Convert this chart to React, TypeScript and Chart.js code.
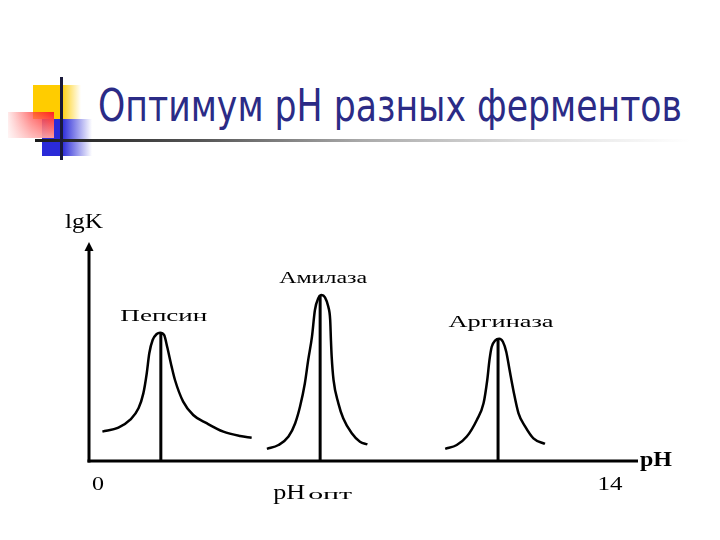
import React, { useEffect, useRef } from 'react';
import { Chart, registerables } from 'chart.js';

Chart.register(...registerables);

// ---------- data ----------
const titleText = 'Оптимум pH разных ферментов';
const enzymeNames = ['Пепсин', 'Амилаза', 'Аргиназа'];
const phOptimum = [1.93, 6.21, 10.99];
const peakLgK = [5.94, 7.69, 5.66];

const pepsinPH = [0.36, 0.79, 1.10, 1.33, 1.46, 1.55, 1.62, 1.71, 1.82, 1.91, 2.02, 2.10, 2.22, 2.31, 2.53, 2.80, 3.16, 3.61, 4.06, 4.37];
const pepsinLgK = [1.36, 1.54, 1.90, 2.44, 3.13, 4.04, 4.99, 5.60, 5.88, 5.94, 5.83, 5.29, 4.37, 3.75, 2.75, 2.13, 1.75, 1.36, 1.16, 1.08];

const amylasePH = [4.78, 5.09, 5.36, 5.54, 5.67, 5.80, 5.89, 5.99, 6.07, 6.16, 6.25, 6.34, 6.43, 6.48, 6.50, 6.52, 6.57, 6.70, 6.83, 7.06, 7.28, 7.48];
const amylaseLgK = [0.56, 0.74, 1.13, 1.75, 2.52, 3.60, 4.68, 5.75, 6.99, 7.53, 7.69, 7.58, 7.14, 6.53, 5.60, 4.83, 3.75, 2.67, 1.98, 1.28, 0.89, 0.77];

const arginasePH = [9.57, 9.88, 10.15, 10.42, 10.60, 10.70, 10.76, 10.82, 10.91, 11.02, 11.12, 11.21, 11.30, 11.40, 11.54, 11.72, 11.94, 12.25];
const arginaseLgK = [0.56, 0.74, 1.13, 1.90, 2.67, 3.75, 4.68, 5.29, 5.57, 5.66, 5.52, 5.06, 4.21, 3.29, 2.21, 1.59, 1.05, 0.79];

const xTickValues = [0, 14];
const xTickLabels = ['0', '14'];
const xAxisTitle = 'pH';
const yAxisTitle = 'lgK';
const optLabelMain = 'pH';
const optLabelSub = 'опт';

const X_MAX = 14.75;
const Y_MAX = 10;

// ---------- helpers ----------
const SERIF = '"Liberation Serif", "DejaVu Serif", serif';

function stretchText(
  ctx: CanvasRenderingContext2D,
  text: string,
  x: number,
  y: number,
  size: number,
  width: number,
  align: 'center' | 'left' = 'center',
  baseline: CanvasTextBaseline = 'middle',
  weight: string = 'normal'
) {
  ctx.save();
  ctx.font = `${weight} ${size}px ${SERIF}`;
  ctx.fillStyle = '#000';
  ctx.textBaseline = baseline;
  ctx.textAlign = align;
  const w = ctx.measureText(text).width || 1;
  ctx.translate(x, y);
  ctx.scale(width / w, 1);
  ctx.fillText(text, 0, 0);
  ctx.restore();
}

const toPoints = (xs: number[], ys: number[]) => xs.map((x, i) => ({ x, y: ys[i] }));

const slidePlugin = {
  id: 'slideAxes',
  beforeDatasetsDraw(chart: any) {
    const ctx: CanvasRenderingContext2D = chart.ctx;
    const { left, right, top, bottom } = chart.chartArea;
    ctx.save();
    ctx.strokeStyle = '#000';
    ctx.fillStyle = '#000';
    ctx.lineWidth = 3;
    // y axis
    ctx.beginPath();
    ctx.moveTo(left, bottom + 1.5);
    ctx.lineTo(left, top + 6);
    ctx.stroke();
    ctx.beginPath();
    ctx.moveTo(left, top - 3);
    ctx.lineTo(left - 4.5, top + 6);
    ctx.lineTo(left + 4.5, top + 6);
    ctx.closePath();
    ctx.fill();
    // x axis
    ctx.beginPath();
    ctx.moveTo(left - 1.5, bottom);
    ctx.lineTo(right, bottom);
    ctx.stroke();
    ctx.restore();
  },
  afterDraw(chart: any) {
    const ctx: CanvasRenderingContext2D = chart.ctx;
    const xs = chart.scales.x;
    const ys = chart.scales.y;
    const { left, right, top, bottom } = chart.chartArea;
    // axis titles
    stretchText(ctx, yAxisTitle, left - 5, top - 22, 20, 38);
    stretchText(ctx, xAxisTitle, right + 18, bottom - 1, 22, 32, 'center', 'middle', 'bold');
    // tick labels
    const tickWidths = [12, 25];
    xTickValues.forEach((v, i) => {
      const px = xs.getPixelForValue(v);
      stretchText(ctx, xTickLabels[i], px + (i === 0 ? 9 : 0), bottom + 24, 19, tickWidths[i]);
    });
    // enzyme labels
    const labelWidths = [87, 88, 105];
    enzymeNames.forEach((name, i) => {
      const px = xs.getPixelForValue(phOptimum[i]);
      const py = ys.getPixelForValue(peakLgK[i]);
      stretchText(ctx, name, px + 3, py - 16, 16, labelWidths[i]);
    });
    // pH opt label
    const ox = xs.getPixelForValue(phOptimum[1]) - 47;
    stretchText(ctx, optLabelMain, ox, bottom + 38, 21, 32, 'left', 'alphabetic');
    stretchText(ctx, optLabelSub, ox + 35, bottom + 38, 14, 44, 'left', 'alphabetic');
  },
};

export default function App() {
  const canvasRef = useRef<HTMLCanvasElement | null>(null);
  const titleRef = useRef<HTMLSpanElement | null>(null);

  useEffect(() => {
    const t = titleRef.current;
    if (t) {
      const w = t.offsetWidth || 1;
      t.style.transform = `scaleX(${584 / w})`;
    }
    const canvas = canvasRef.current;
    if (!canvas) return;
    const curves = [
      toPoints(pepsinPH, pepsinLgK),
      toPoints(amylasePH, amylaseLgK),
      toPoints(arginasePH, arginaseLgK),
    ];
    const datasets: any[] = [];
    curves.forEach((pts, i) => {
      datasets.push({
        label: enzymeNames[i],
        data: pts,
        showLine: true,
        borderColor: '#000',
        borderWidth: 2.5,
        pointRadius: 0,
        cubicInterpolationMode: 'monotone',
        fill: false,
      });
    });
    phOptimum.forEach((ph, i) => {
      datasets.push({
        label: enzymeNames[i] + ' pH',
        data: [
          { x: ph, y: 0 },
          { x: ph, y: peakLgK[i] },
        ],
        showLine: true,
        borderColor: '#000',
        borderWidth: 3,
        pointRadius: 0,
        fill: false,
      });
    });
    const chart = new Chart(canvas, {
      type: 'scatter',
      data: { datasets },
      options: {
        animation: false,
        responsive: true,
        maintainAspectRatio: false,
        layout: { padding: { left: 89, right: 82, top: 245, bottom: 79 } },
        plugins: { legend: { display: false }, tooltip: { enabled: false }, title: { display: false } },
        scales: {
          x: { type: 'linear', min: 0, max: X_MAX, display: false },
          y: { type: 'linear', min: 0, max: Y_MAX, display: false },
        },
        clip: false as any,
      },
      plugins: [slidePlugin],
    });
    return () => chart.destroy();
  }, []);

  return (
    <div style={{ position: 'fixed', left: 0, top: 0, width: 720, height: 540, background: '#fff', overflow: 'hidden' }}>
      {/* decorative squares */}
      <div style={{ position: 'absolute', left: 33, top: 85, width: 48, height: 34,
        background: 'linear-gradient(to right, #FFCC00 0%, #FFCC00 58%, rgba(255,220,80,0) 100%)' }} />
      <div style={{ position: 'absolute', left: 42, top: 119, width: 50, height: 37,
        background: 'linear-gradient(to right, #2A2AD8 0%, #2A2AD8 40%, rgba(80,80,230,0) 100%)' }} />
      <div style={{ position: 'absolute', left: 8, top: 112, width: 46, height: 26,
        background: 'linear-gradient(to bottom, rgba(255,255,255,0) 0%, rgba(255,255,255,0.55) 100%), linear-gradient(to right, rgba(255,120,120,0.15) 0%, rgba(255,60,60,0.7) 50%, #FF2020 100%)' }} />
      <div style={{ position: 'absolute', left: 35, top: 139, width: 655, height: 3,
        background: 'linear-gradient(to right, #1a1a1a 0%, #555 25%, #aaa 50%, #ddd 75%, rgba(255,255,255,0) 100%)' }} />
      <div style={{ position: 'absolute', left: 60, top: 77, width: 3, height: 83, background: '#1a1a3a' }} />
      {/* title */}
      <div style={{ position: 'absolute', left: 98, top: 84, whiteSpace: 'nowrap' }}>
        <span ref={titleRef} style={{ display: 'inline-block', transformOrigin: 'left center',
          fontFamily: '"DejaVu Sans", Verdana, sans-serif', fontSize: 44, lineHeight: '44px', color: '#2B2B86' }}>
          {titleText}
        </span>
      </div>
      <div style={{ position: 'absolute', left: 0, top: 0, width: 720, height: 540 }}>
        <canvas ref={canvasRef} />
      </div>
    </div>
  );
}
